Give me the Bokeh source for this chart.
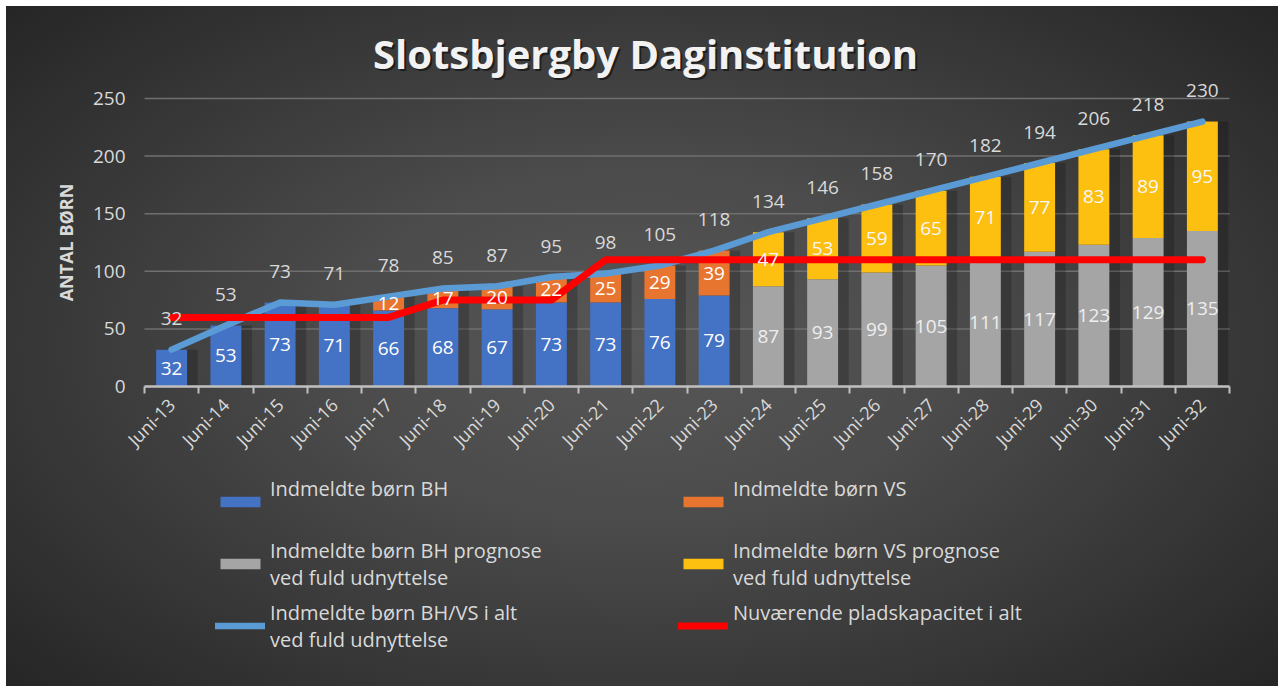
import math
from bokeh.plotting import figure
from bokeh.models import (ColumnDataSource, FixedTicker, Legend, LegendItem, Range1d,
                          LabelSet, Label)
from bokeh.core.properties import value
from bokeh.embed import file_html
from bokeh.resources import INLINE

# ---------------- data ----------------
categories = ["Juni-13", "Juni-14", "Juni-15", "Juni-16", "Juni-17", "Juni-18", "Juni-19",
              "Juni-20", "Juni-21", "Juni-22", "Juni-23", "Juni-24", "Juni-25", "Juni-26",
              "Juni-27", "Juni-28", "Juni-29", "Juni-30", "Juni-31", "Juni-32"]
bh = [32, 53, 73, 71, 66, 68, 67, 73, 73, 76, 79, 0, 0, 0, 0, 0, 0, 0, 0, 0]
vs = [0, 0, 0, 0, 12, 17, 20, 22, 25, 29, 39, 0, 0, 0, 0, 0, 0, 0, 0, 0]
bh_prog = [0, 0, 0, 0, 0, 0, 0, 0, 0, 0, 0, 87, 93, 99, 105, 111, 117, 123, 129, 135]
vs_prog = [0, 0, 0, 0, 0, 0, 0, 0, 0, 0, 0, 47, 53, 59, 65, 71, 77, 83, 89, 95]
total = [32, 53, 73, 71, 78, 85, 87, 95, 98, 105, 118, 134, 146, 158, 170, 182, 194, 206, 218, 230]
capacity = [60, 60, 60, 60, 60, 75, 75, 75, 110, 110, 110, 110, 110, 110, 110, 110, 110, 110, 110, 110]
y_ticks = [0, 50, 100, 150, 200, 250]

title_text = "Slotsbjergby Daginstitution"
y_label = "ANTAL BØRN"
legend_labels = {
    "bh": "Indmeldte børn BH\n\u200b",
    "vs": "Indmeldte børn VS\n\u200b",
    "bh_prog": "Indmeldte børn BH prognose\nved fuld udnyttelse",
    "vs_prog": "Indmeldte børn VS prognose\nved fuld udnyttelse",
    "total": "Indmeldte børn BH/VS i alt\nved fuld udnyttelse",
    "cap": "Nuværende pladskapacitet i alt\n\u200b",
}

# ---------------- styles / layout ----------------
FONT = "Open Sans"
C_BH, C_VS, C_BHP, C_VSP = "#4472c4", "#e8752f", "#a5a5a5", "#fdbf10"
C_TOTAL, C_CAP = "#5b9bd5", "#ff0000"
TXT = "#d9d9d9"
W, H = 1272, 680                 # canvas (placed 6px from page edge)
PX_X = 54.25                     # pixels per category
PX_Y = 1.152                     # pixels per child
LEFT_PAD, RIGHT_PAD = 138, 49    # canvas px left / right of the plot area
TOP_PAD, BOTTOM_PAD = 380, 300   # canvas px above / below the zero line

n = len(categories)
xs = list(range(n))
x0, x1 = -0.5, n - 0.5
src = ColumnDataSource(dict(x=xs, bh=bh, vs=vs, bh_prog=bh_prog, vs_prog=vs_prog,
                            total=total, capacity=capacity,
                            shadow_x=[v + 0.12 for v in xs]))

p = figure(width=W, height=H,
           x_range=Range1d(x0 - LEFT_PAD / PX_X, x1 + RIGHT_PAD / PX_X),
           y_range=Range1d(-BOTTOM_PAD / PX_Y, TOP_PAD / PX_Y),
           output_backend="svg", toolbar_location=None,
           min_border_left=0, min_border_right=0, min_border_top=0, min_border_bottom=0)
p.styles = {"margin": "6px 0 0 6px",
            "background": "radial-gradient(ellipse 70% 75% at 50% 50%, #575757 0%, #4b4b4b 35%, #363636 70%, #242424 100%)"}
p.border_fill_color = None
p.background_fill_color = None
p.outline_line_color = None
p.grid.visible = False

# gridlines across the plot area only
p.segment(x0=[x0] * len(y_ticks), x1=[x1] * len(y_ticks), y0=y_ticks, y1=y_ticks,
          line_color="#6f6f6f", line_width=1.5)

# shadows behind bars
p.vbar(x="shadow_x", top="total", width=0.72, source=src, fill_color="black",
       fill_alpha=0.2, line_color=None)

stack_renderers = p.vbar_stack(["bh", "vs", "bh_prog", "vs_prog"], x="x", width=0.57,
                               color=[C_BH, C_VS, C_BHP, C_VSP], line_color=None, source=src)

r_total = p.line("x", "total", source=src, line_color=C_TOTAL, line_width=6.5,
                 line_cap="round", line_join="round")
r_cap = p.line("x", "capacity", source=src, line_color=C_CAP, line_width=7,
               line_cap="round", line_join="round")

# ---------------- data labels ----------------
def lab_source(vals, bases):
    xx, yy, tt = [], [], []
    for i, (v, b) in enumerate(zip(vals, bases)):
        if v:
            xx.append(i); yy.append(b + v / 2); tt.append(str(v))
    return ColumnDataSource(dict(x=xx, y=yy, t=tt))

zeros = [0] * n
label_specs = [
    (lab_source(bh, zeros), "#ffffff"),
    (lab_source(vs, bh), "#ffffff"),
    (lab_source(bh_prog, zeros), "#eeeeee"),
    (lab_source(vs_prog, bh_prog), "#f7f7f7"),
]
for s, col in label_specs:
    p.add_layout(LabelSet(x="x", y="y", text="t", source=s, text_align="center",
                          text_baseline="middle", text_color=col,
                          text_font=value(FONT), text_font_size="19px"))

tot_src = ColumnDataSource(dict(x=xs, y=total, t=[str(v) for v in total]))
p.add_layout(LabelSet(x="x", y="y", text="t", source=tot_src, text_align="center",
                      text_baseline="middle", y_offset=31, text_color=TXT,
                      text_font=value(FONT), text_font_size="19px"))

# ---------------- axes ----------------
ya = p.yaxis[0]
ya.fixed_location = x0
ya.bounds = (y_ticks[0], y_ticks[-1])
ya.ticker = FixedTicker(ticks=y_ticks)
ya.axis_line_color = None
ya.major_tick_line_color = None
ya.minor_tick_line_color = None
ya.major_label_text_color = TXT
ya.major_label_text_font = FONT
ya.major_label_text_font_size = "19px"
ya.major_label_standoff = 13
ya.axis_label = y_label
ya.axis_label_text_font = FONT
ya.axis_label_text_font_style = "bold"
ya.axis_label_text_font_size = "18px"
ya.axis_label_text_color = TXT
ya.axis_label_standoff = 12

xa = p.xaxis[0]
xa.fixed_location = 0
xa.bounds = (x0, x1)
xa.ticker = FixedTicker(ticks=xs, minor_ticks=[v - 0.5 for v in xs] + [x1])
xa.major_label_overrides = {i: c for i, c in enumerate(categories)}
xa.major_label_orientation = math.pi / 4
xa.major_label_text_color = TXT
xa.major_label_text_font = FONT
xa.major_label_text_font_size = "18px"
xa.major_label_standoff = 8
xa.axis_line_color = "#bfbfbf"
xa.axis_line_width = 2.5
xa.major_tick_line_color = None
xa.minor_tick_line_color = "#bfbfbf"
xa.minor_tick_line_width = 2
xa.minor_tick_in = 0
xa.minor_tick_out = 7

# ---------------- title ----------------
p.add_layout(Label(x=641, y=631, x_units="screen", y_units="screen", text=title_text,
                   text_align="center", text_baseline="alphabetic", text_color="black",
                   text_alpha=0.5, text_font=FONT, text_font_style="bold",
                   text_font_size="40px"))
p.add_layout(Label(x=639, y=633, x_units="screen", y_units="screen", text=title_text,
                   text_align="center", text_baseline="alphabetic", text_color="#f2f2f2",
                   text_font=FONT, text_font_style="bold", text_font_size="40px"))

# ---------------- legends ----------------
def make_legend(items, loc):
    lg = Legend(items=items, location=loc, orientation="vertical", glyph_width=50,
                glyph_height=13, label_standoff=5, padding=0, margin=0, spacing=7,
                label_height=55,
                border_line_color=None, background_fill_alpha=0,
                label_text_color=TXT, label_text_font=FONT, label_text_font_size="20px",
                label_text_line_height=1.45)
    p.add_layout(lg, "center")
    return lg

make_legend([LegendItem(label=legend_labels["bh"], renderers=[stack_renderers[0]]),
             LegendItem(label=legend_labels["bh_prog"], renderers=[stack_renderers[2]]),
             LegendItem(label=legend_labels["total"], renderers=[r_total])], (209, 33))
make_legend([LegendItem(label=legend_labels["vs"], renderers=[stack_renderers[1]]),
             LegendItem(label=legend_labels["vs_prog"], renderers=[stack_renderers[3]]),
             LegendItem(label=legend_labels["cap"], renderers=[r_cap])], (672, 33))

open("out.html", "w").write(file_html(p, INLINE))
